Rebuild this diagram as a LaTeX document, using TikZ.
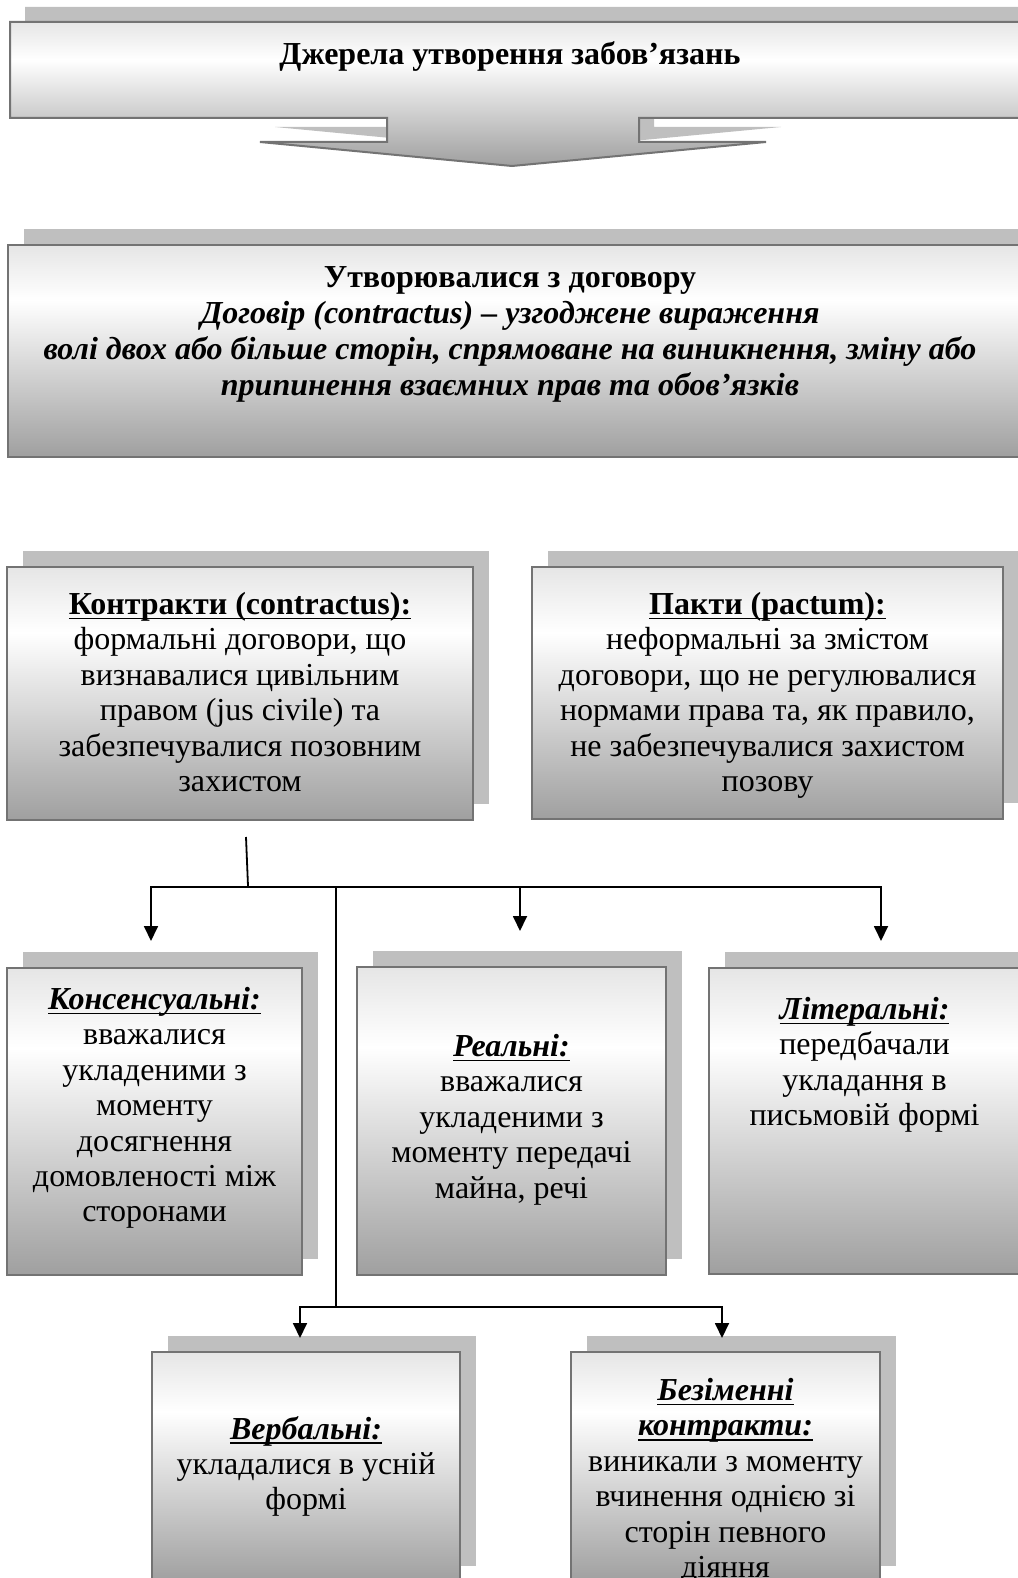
\documentclass[tikz,border=0pt]{standalone}
\usepackage{fontspec}
\setmainfont{Liberation Serif}
\usetikzlibrary{positioning,shadows,arrows.meta}
\colorlet{shtop}{gray!20}
\colorlet{shbot}{gray!75}
\pgfdeclareverticalshading{boxshade}{100bp}{color(0bp)=(shbot); color(25bp)=(shbot); color(62bp)=(white); color(75bp)=(shtop); color(100bp)=(shtop)}
\tikzset{
  box/.style={draw=black!55, line width=2pt, shade, shading=boxshade, inner sep=0pt,
    drop shadow={shadow xshift=16pt, shadow yshift=16pt, fill=gray!50, opacity=1}},
  txt/.style={align=center, inner sep=0pt, font=\fontsize{32}{35.4}\selectfont},
  link/.style={line width=1.8pt},
  arr/.style={link, -{Triangle[length=15pt,width=14pt]}}
}
\newcommand{\undl}[1]{\setbox0\hbox{#1}\leavevmode\rlap{\rule[-5pt]{\wd0}{1.8pt}}\box0}
\newcommand{\hd}[1]{\undl{\textbf{#1}}}
\newcommand{\hdi}[1]{\undl{\textbf{\textit{#1}}}}
\begin{document}
\begin{tikzpicture}[x=1pt,y=-1pt]
\useasboundingbox (0,0) rectangle (1017,1578);
% callout with arrow on top
\fill[gray!50, shift={(15pt,15pt)}] (10,22) -- (1050,22) -- (1050,118) -- (639,118) -- (639,142) -- (766,142) -- (512,166) -- (260,142) -- (387,142) -- (387,118) -- (10,118) -- cycle;
\path[draw=black!55, line width=2pt, shade, shading=boxshade] (10,22) -- (1050,22) -- (1050,118) -- (639,118) -- (639,142) -- (766,142) -- (512,166) -- (260,142) -- (387,142) -- (387,118) -- (10,118) -- cycle;
\node[txt, anchor=base] (title) at (510,65) {\textbf{Джерела утворення забов’язань}};
% second level
\node[box, minimum width=1042pt, minimum height=212pt] (dog) at (529,351) {};
\node[txt, font=\fontsize{32}{36}\selectfont, below=22pt of dog.north, xshift=-19pt] (dogtxt) {\textbf{Утворювалися з договору}\\
  \textbf{\textit{Договір (contractus) – узгоджене вираження}}\\
  \textbf{\textit{волі двох або більше сторін, спрямоване на виникнення, зміну або}}\\
  \textbf{\textit{припинення взаємних прав та обов’язків}}};
% contracts and pacts
\node[box, minimum width=466pt, minimum height=253pt] (kontr) at (240,693.5) {};
\node[txt, below=26pt of kontr.north] (kontrtxt) {\hd{Контракти (contractus):}\\ формальні договори, що\\ визнавалися цивільним\\ правом (jus civile) та\\ забезпечувалися позовним\\ захистом};
\node[box, minimum width=471pt, minimum height=252pt] (pakt) at (767.5,693) {};
\node[txt, below=26pt of pakt.north] (pakttxt) {\hd{Пакти (pactum):}\\ неформальні за змістом\\ договори, що не регулювалися\\ нормами права та, як правило,\\ не забезпечувалися захистом\\ позову};
% kinds of contracts
\node[box, minimum width=295pt, minimum height=307pt] (kons) at (154.5,1121.5) {};
\node[txt, below=20pt of kons.north] (konstxt) {\hdi{Консенсуальні:}\\ вважалися\\ укладеними з\\ моменту\\ досягнення\\ домовленості між\\ сторонами};
\node[box, minimum width=309pt, minimum height=308pt] (real) at (511.5,1121) {};
\node[txt, below=68pt of real.north] (realtxt) {\hdi{Реальні:}\\ вважалися\\ укладеними з\\ моменту передачі\\ майна, речі};
\node[box, minimum width=341pt, minimum height=306pt] (lit) at (879.5,1121) {};
\node[txt, below=30pt of lit.north, xshift=-15pt] (littxt) {\hdi{Літеральні:}\\ передбачали\\ укладання в\\ письмовій формі};
\node[box, minimum width=308pt, minimum height=230pt] (verb) at (306,1467) {};
\node[txt, below=65pt of verb.north] (verbtxt) {\hdi{Вербальні:}\\ укладалися в усній\\ формі};
\node[box, minimum width=309pt, minimum height=230pt] (bez) at (725.5,1467) {};
\node[txt, below=27pt of bez.north] (beztxt) {\hdi{Безіменні}\\ \hdi{контракти:}\\ виникали з моменту\\ вчинення однією зі\\ сторін певного\\ діяння};
% connectors
\coordinate (stem) at (246,837);
\coordinate (jn) at (248,886);
\coordinate (busL) at (151,887);
\coordinate (busC) at (520,887);
\coordinate (busR) at (881,887);
\coordinate (trunk) at (336,887);
\coordinate (fork) at (336,1307);
\coordinate (forkL) at (300,1307);
\coordinate (forkR) at (722,1307);
\draw[link] (stem) -- (jn);
\draw[link, line cap=rect] (busL) -- (busR);
\draw[arr, shorten >=26pt] (busL) -- (busL |- kons.north);
\draw[arr, shorten >=35pt] (busC) -- (busC |- real.north);
\draw[arr, shorten >=26pt] (busR) -- (busR |- lit.north);
\draw[link] (trunk) -- (fork);
\draw[link, line cap=rect] (forkL) -- (forkR);
\draw[arr, shorten >=13pt] (forkL) -- (forkL |- verb.north);
\draw[arr, shorten >=13pt] (forkR) -- (forkR |- bez.north);
\end{tikzpicture}
\end{document}
